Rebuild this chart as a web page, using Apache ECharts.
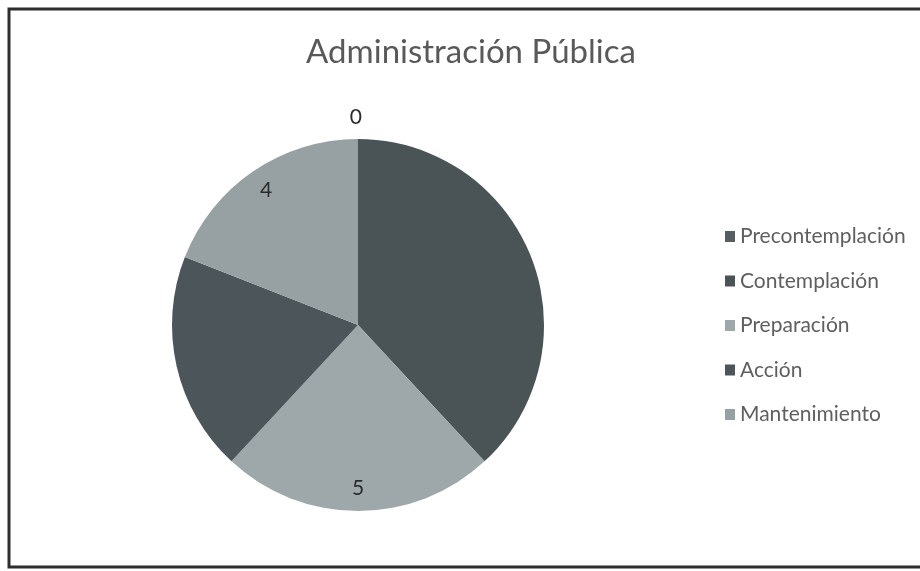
<!DOCTYPE html>
<html>
<head>
<meta charset="utf-8">
<script src="https://cdn.jsdelivr.net/npm/echarts@6/dist/echarts.min.js"></script>
<style>
html,body{margin:0;padding:0;background:#fff;}
#chart{width:920px;height:571px;}
</style>
</head>
<body>
<div id="chart"></div>
<script>
const title = 'Administración Pública';
const categories = ['Precontemplación', 'Contemplación', 'Preparación', 'Acción', 'Mantenimiento'];
const values = [0, 8, 5, 4, 4];

const colors = ['#565e62', '#4a5356', '#9ea8aa', '#4c5559', '#97a1a4'];
const labelVisible = [true, false, true, false, true];

const chart = echarts.init(document.getElementById('chart'));
const font = 'Lato, "Open Sans", sans-serif';

const mainData = categories.map((c, i) => ({ name: c, value: values[i], itemStyle: { color: colors[i] } }));
const labelData = categories.map((c, i) => {
  const d = { name: c, value: values[i], itemStyle: { color: 'rgba(0,0,0,0)' } };
  if (!labelVisible[i]) d.label = { show: false };
  if (values[i] === 0) {
    d.label = { show: true, position: 'outside', distanceToLabelLine: -4 };
    d.labelLine = { show: false, length: 22, length2: 0 };
  }
  return d;
});

chart.setOption({
  animation: false,
  backgroundColor: '#ffffff',
  title: {
    text: title,
    left: 466,
    top: 31,
    textAlign: 'center',
    textStyle: { fontFamily: font, fontSize: 33, fontWeight: 'normal', color: '#595959' }
  },
  legend: {
    data: categories,
    orient: 'vertical',
    left: 720,
    top: 221,
    itemWidth: 10,
    itemHeight: 11,
    itemGap: 23.5,
    icon: 'rect',
    textStyle: { fontFamily: font, fontSize: 21, color: '#5f5f5f' }
  },
  graphic: [{
    type: 'rect',
    shape: { x: 9, y: 9, width: 930, height: 558 },
    style: { fill: 'none', stroke: '#2e2e2e', lineWidth: 3 },
    silent: true
  }],
  series: [
    {
      type: 'pie',
      center: [358, 325],
      radius: [0, 186],
      startAngle: 90,
      clockwise: true,
      label: { show: false },
      labelLine: { show: false },
      emphasis: { disabled: true },
      itemStyle: { borderWidth: 0 },
      data: mainData
    },
    {
      type: 'pie',
      center: [358, 325],
      radius: [134, 186],
      startAngle: 90,
      clockwise: true,
      silent: true,
      emphasis: { disabled: true },
      label: { show: true, position: 'inside', fontFamily: font, fontSize: 21, color: '#2b2b2b', formatter: '{c}' },
      labelLine: { show: false },
      itemStyle: { borderWidth: 0 },
      data: labelData
    }
  ]
});
</script>
</body>
</html>
